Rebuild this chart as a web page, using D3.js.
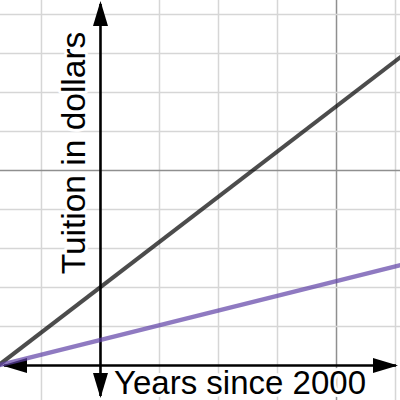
<!DOCTYPE html>
<html>
<head>
<meta charset="utf-8">
<script src="https://cdn.jsdelivr.net/npm/d3@7"></script>
<style>
  html, body { margin: 0; padding: 0; background: #fff; }
  svg { display: block; }
  text { font-family: Arial, "Liberation Sans", Helvetica, sans-serif; }
</style>
</head>
<body>
<svg id="chart" width="400" height="400"></svg>
<script>
// ---- data (y in thousands of dollars, arbitrary units) ----
const years = [-2, 6];
const tuitionDark = [-0.31, 8.97];
const tuitionPurple = [-0.10, 2.92];
const xLabel = "Years since 2000";
const yLabel = "Tuition in dollars";
const xDomain = [-1.703, 5.076];
const yDomain = [-0.885, 9.372];
const xMinorStep = 1, xMajorEvery = 4;
const yMinorStep = 1, yMajorEvery = 5;

const W = 400, H = 400;
const svg = d3.select("#chart");
const x = d3.scaleLinear().domain(xDomain).range([0, W]);
const y = d3.scaleLinear().domain(yDomain).range([H, 0]);

// grid
const xTicks = d3.range(Math.ceil(xDomain[0]), Math.floor(xDomain[1]) + 1, xMinorStep).filter(v => v !== 0);
const yTicks = d3.range(Math.ceil(yDomain[0]), Math.floor(yDomain[1]) + 1, yMinorStep).filter(v => v !== 0);
const g = svg.append("g");
g.selectAll(".vx").data(xTicks).join("line")
  .attr("x1", d => x(d)).attr("x2", d => x(d)).attr("y1", 0).attr("y2", H)
  .attr("stroke", d => d % xMajorEvery === 0 ? "#8f8f8f" : "#d6d6d6")
  .attr("stroke-width", 1.5);
g.selectAll(".hy").data(yTicks).join("line")
  .attr("y1", d => y(d)).attr("y2", d => y(d)).attr("x1", 0).attr("x2", W)
  .attr("stroke", d => d % yMajorEvery === 0 ? "#8f8f8f" : "#d6d6d6")
  .attr("stroke-width", 1.5);

// axes
const ax = svg.append("g");
const x0 = x(0), y0 = y(0);
ax.append("line").attr("x1", x(xDomain[0]) + 4).attr("x2", x(xDomain[1]) - 4)
  .attr("y1", y0).attr("y2", y0).attr("stroke", "#000").attr("stroke-width", 2.6);
ax.append("line").attr("y1", y(yDomain[1]) + 4).attr("y2", y(yDomain[0]) - 4)
  .attr("x1", x0).attr("x2", x0).attr("stroke", "#000").attr("stroke-width", 2.6);
const aL = 25, aW = 7.5;
const arrows = [
  [[x(xDomain[1]) - 2, y0], [x(xDomain[1]) - 2 - aL, y0 - aW], [x(xDomain[1]) - 2 - aL, y0 + aW]],
  [[x(xDomain[0]) + 2, y0], [x(xDomain[0]) + 2 + aL, y0 - aW], [x(xDomain[0]) + 2 + aL, y0 + aW]],
  [[x0, y(yDomain[1]) + 1], [x0 - aW, y(yDomain[1]) + 1 + aL], [x0 + aW, y(yDomain[1]) + 1 + aL]],
  [[x0, y(yDomain[0]) - 2], [x0 - aW, y(yDomain[0]) - 2 - aL], [x0 + aW, y(yDomain[0]) - 2 - aL]]
];
ax.selectAll("path").data(arrows).join("path")
  .attr("d", d => "M" + d.map(p => p.join(",")).join("L") + "Z")
  .attr("fill", "#000");

// lines
const line = d3.line().x((d, i) => x(years[i])).y(d => y(d));
svg.append("path").datum(tuitionDark).attr("d", line)
  .attr("fill", "none").attr("stroke", "#000").attr("stroke-opacity", 0.7).attr("stroke-width", 4);
svg.append("path").datum(tuitionPurple).attr("d", line)
  .attr("fill", "none").attr("stroke", "#6042a6").attr("stroke-opacity", 0.7).attr("stroke-width", 4.2);

// labels
svg.append("text").text(xLabel)
  .attr("x", 240).attr("y", 394).attr("text-anchor", "middle")
  .attr("font-size", 33).attr("fill", "#000")
  .attr("stroke", "#fff").attr("stroke-width", 6).attr("paint-order", "stroke").attr("stroke-linejoin", "round");
svg.append("text").text(yLabel)
  .attr("transform", "translate(85,153) rotate(-90)").attr("text-anchor", "middle")
  .attr("font-size", 33.5).attr("fill", "#000")
  .attr("stroke", "#fff").attr("stroke-width", 6).attr("paint-order", "stroke").attr("stroke-linejoin", "round");
</script>
</body>
</html>
